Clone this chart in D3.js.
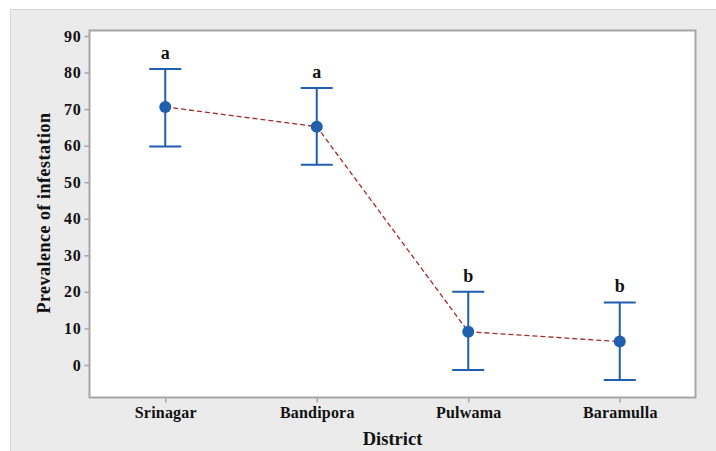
<!DOCTYPE html>
<html>
<head>
<meta charset="utf-8">
<script src="https://cdn.jsdelivr.net/npm/d3@7"></script>
<style>
  body { margin: 0; background: #fff; }
  text { font-family: "Liberation Serif", "Times New Roman", serif; font-weight: bold; fill: #111; }
</style>
</head>
<body>
<script>
// Data
var districts = ["Srinagar", "Bandipora", "Pulwama", "Baramulla"]
var means = [70.6, 65.2, 9.1, 6.4]
var upper = [81.0, 75.8, 20.0, 17.1]
var lower = [59.8, 54.8, -1.4, -4.1]
var groups = ["a", "a", "b", "b"]
var yTicks = [0, 10, 20, 30, 40, 50, 60, 70, 80, 90]

var W = 716, H = 451
var plot = {left: 89.5, top: 30.5, right: 695.5, bottom: 397.5}

var svg = d3.select("body").append("svg")
  .attr("width", W)
  .attr("height", H)

// gray panel behind everything
svg.append("rect")
  .attr("x", 10.5).attr("y", 9.5)
  .attr("width", W).attr("height", H)
  .attr("fill", "#ebebeb")
  .attr("stroke", "#d6d6d6")

svg.append("rect")
  .attr("x", plot.left).attr("y", plot.top)
  .attr("width", plot.right - plot.left)
  .attr("height", plot.bottom - plot.top)
  .attr("fill", "#fff")
  .attr("stroke", "#a6a6a6")
  .attr("stroke-width", 2)

var x = d3.scalePoint()
  .domain(districts)
  .range([plot.left, plot.right])
  .padding(0.5)

var y = d3.scaleLinear()
  .domain([-8.9, 91.5])
  .range([plot.bottom, plot.top])

var yAxis = d3.axisLeft(y).tickValues(yTicks).tickSize(5).tickPadding(3)
var xAxis = d3.axisBottom(x).tickSize(5).tickPadding(4)

var gy = svg.append("g")
  .attr("transform", "translate(" + plot.left + ",0)")
  .call(yAxis)
gy.select(".domain").remove()
gy.selectAll("line").attr("stroke", "#a6a6a6").attr("stroke-width", 1.5)
gy.selectAll("text")
  .style("font-size", "16px").style("font-family", "Liberation Serif")
  .style("letter-spacing", "0.8px")
  .attr("fill", "#111")

var gx = svg.append("g")
  .attr("transform", "translate(0," + plot.bottom + ")")
  .call(xAxis)
gx.select(".domain").remove()
gx.selectAll("line").attr("stroke", "#a6a6a6").attr("stroke-width", 1.5)
gx.selectAll("text")
  .style("font-size", "16px").style("font-family", "Liberation Serif")
  .style("letter-spacing", "0.2px")
  .attr("fill", "#111")

var data = districts.map(function(d, i) {
  return {name: d, mean: means[i], hi: upper[i], lo: lower[i], grp: groups[i]}
})

// dashed connect line
var line = d3.line()
  .x(function(d) { return x(d.name) })
  .y(function(d) { return y(d.mean) })

svg.append("path")
  .datum(data)
  .attr("d", line)
  .attr("fill", "none")
  .attr("stroke", "#a52a2a")
  .attr("stroke-width", 1.3)
  .attr("stroke-dasharray", "5,3")

var bars = svg.selectAll(".err")
  .data(data)
  .enter().append("g")
  .attr("class", "err")

var blue = "#1f5fae"
bars.append("line")
  .attr("x1", function(d) { return x(d.name) })
  .attr("x2", function(d) { return x(d.name) })
  .attr("y1", function(d) { return y(d.hi) })
  .attr("y2", function(d) { return y(d.lo) })
  .attr("stroke", blue).attr("stroke-width", 2)

bars.selectAll(".cap")
  .data(function(d) { return [{n: d.name, v: d.hi}, {n: d.name, v: d.lo}] })
  .enter().append("line")
  .attr("x1", function(c) { return x(c.n) - 16 })
  .attr("x2", function(c) { return x(c.n) + 16 })
  .attr("y1", function(c) { return y(c.v) })
  .attr("y2", function(c) { return y(c.v) })
  .attr("stroke", blue).attr("stroke-width", 2)

bars.append("circle")
  .attr("cx", function(d) { return x(d.name) })
  .attr("cy", function(d) { return y(d.mean) })
  .attr("r", 6)
  .attr("fill", blue)

bars.append("text")
  .attr("x", function(d) { return x(d.name) })
  .attr("y", function(d) { return y(d.hi) - 10 })
  .attr("text-anchor", "middle")
  .style("font-size", "18px")
  .text(function(d) { return d.grp })

// axis titles
svg.append("text")
  .attr("transform", "translate(50," + 213 + ") rotate(-90)")
  .attr("text-anchor", "middle")
  .style("font-size", "18px")
  .style("letter-spacing", "0.5px")
  .text("Prevalence of infestation")

svg.append("text")
  .attr("x", (plot.left + plot.right) / 2)
  .attr("y", 445)
  .attr("text-anchor", "middle")
  .style("font-size", "18.5px")
  .text("District")
</script>
</body>
</html>
